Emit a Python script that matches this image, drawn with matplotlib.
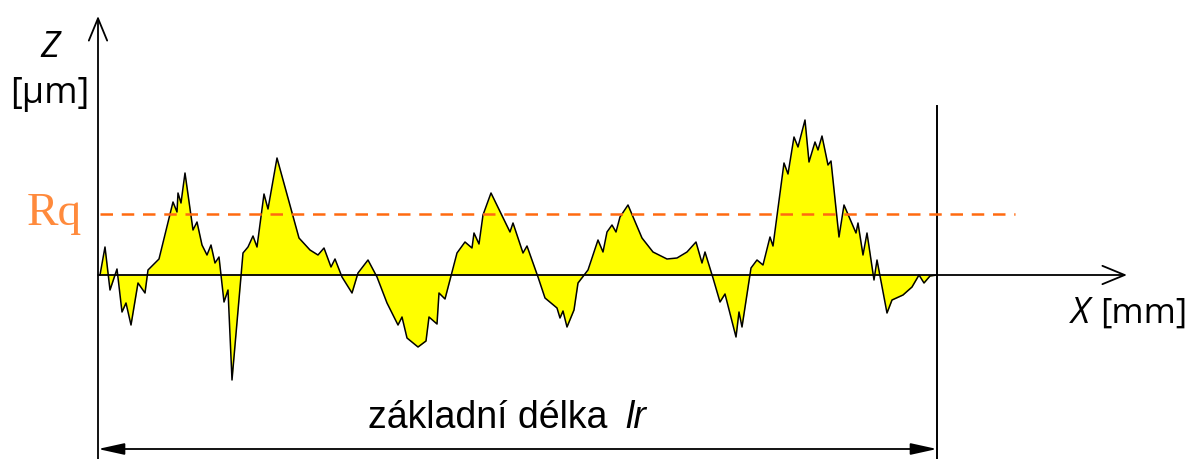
import matplotlib
matplotlib.use("Agg")
from matplotlib import pyplot as plt

"""
Roughness profile sketch with the Rq line and the sampling length lr
"""

# profile along the sampling length (x) and its height about the mean line (z)
profile_x = [2, 7, 12, 19, 24, 28, 33, 40, 47, 50, 61, 75, 79, 80, 83, 87, 95, 99,
             104, 109, 113, 117, 121, 126, 130, 134, 145, 150, 155, 159, 166, 170,
             179, 201, 212, 220, 226, 233, 237, 244, 254, 260, 270, 279, 289, 300,
             304, 309, 320, 328, 331, 339, 341, 347, 359, 367, 374, 376, 381, 385,
             393, 412, 415, 425, 429, 440, 447, 459, 462, 465, 469, 476, 480, 490,
             500, 505, 509, 514, 518, 522, 530, 544, 555, 569, 579, 589, 598, 604,
             607, 615, 622, 627, 638, 641, 644, 653, 659, 665, 672, 675, 686, 690,
             696, 700, 707, 711, 717, 720, 724, 730, 733, 741, 746, 758, 760, 765,
             769, 776, 779, 789, 794, 805, 814, 821, 826, 832, 839]
profile_z = [0, 28, -15, 6, -37, -28, -50, -8, -18, 5, 16, 73, 63, 82, 72, 102, 45, 53,
             30, 20, 30, 12, 18, -27, -15, -105, 22, 28, 39, 28, 81, 66,
             117, 37, 25, 20, 27, 8, 16, -2, -18, 2, 15, -2, -28, -50,
             -42, -63, -72, -66, -42, -49, -18, -24, 22, 33, 27, 42, 31, 60,
             82, 43, 52, 22, 29, -2, -23, -33, -43, -36, -52, -35, -8, 5,
             35, 23, 43, 50, 43, 58, 70, 37, 23, 16, 17, 23, 33, 12,
             23, -3, -27, -19, -62, -37, -52, 7, 15, 10, 38, 29, 112, 101,
             138, 128, 155, 113, 133, 125, 139, 110, 114, 38, 70, 42, 52, 20,
             42, -5, 15, -38, -25, -20, -12, 0, -8, -1, 0]

rq_level = 61          # height of the Rq line
sampling_length = 839  # lr
x_axis_end = 1029
z_axis_top = 259

fig = plt.figure(figsize=(11.85, 4.59), dpi=100)
ax = fig.add_axes([0, 0, 1, 1])
ax.set_xlim(-98, 1087)
ax.set_ylim(-184, 275)
ax.axis("off")

# profile and fill
ax.fill_between(profile_x, profile_z, 0, color="#ffff00", linewidth=0, zorder=1)
ax.plot(profile_x, profile_z, color="black", lw=1.1, zorder=3)

# Rq line
ax.plot([2, 917], [rq_level, rq_level], color="#ff6a10", lw=1.8,
        dashes=(5, 3.5), zorder=4)

# axes with open arrow heads
open_arrow = dict(arrowstyle="->,head_length=0.8,head_width=0.33", color="black",
                  lw=1.3, shrinkA=0, shrinkB=0, mutation_scale=20)
ax.annotate("", xy=(x_axis_end, 0), xytext=(0, 0), arrowprops=open_arrow, zorder=5)
ax.annotate("", xy=(0, z_axis_top), xytext=(0, -184), arrowprops=open_arrow, zorder=5)

# right boundary of the sampling length
ax.plot([sampling_length, sampling_length], [-184, 169], color="black", lw=1.4)

# sampling length arrow
ax.annotate("", xy=(sampling_length, -174), xytext=(0, -174),
            arrowprops=dict(arrowstyle="<|-|>,head_length=1.0,head_width=0.22",
                            color="black", lw=1.3, shrinkA=0, shrinkB=0,
                            mutation_scale=16))

# labels
ax.text(-48, 218, "Z", fontsize=26, style="italic", family="Open Sans",
        ha="center", va="baseline")
ax.text(-48, 172, "[μm]", fontsize=26, family="Open Sans",
        ha="center", va="baseline")
ax.text(-43.5, 50, "Rq", fontsize=34, family="Liberation Serif", color="#ff8a3c",
        ha="center", va="baseline")
ax.text(992, -48, "X", fontsize=26, style="italic", family="Open Sans",
        ha="right", va="baseline")
ax.text(1002, -48, "[mm]", fontsize=25, family="Open Sans",
        ha="left", va="baseline")
ax.text(509, -153, "základní délka", fontsize=27, family="Liberation Sans",
        ha="right", va="baseline")
ax.text(527, -153, "lr", fontsize=27, style="italic", family="Liberation Sans",
        ha="left", va="baseline")

fig.savefig("out.png", dpi=100)
